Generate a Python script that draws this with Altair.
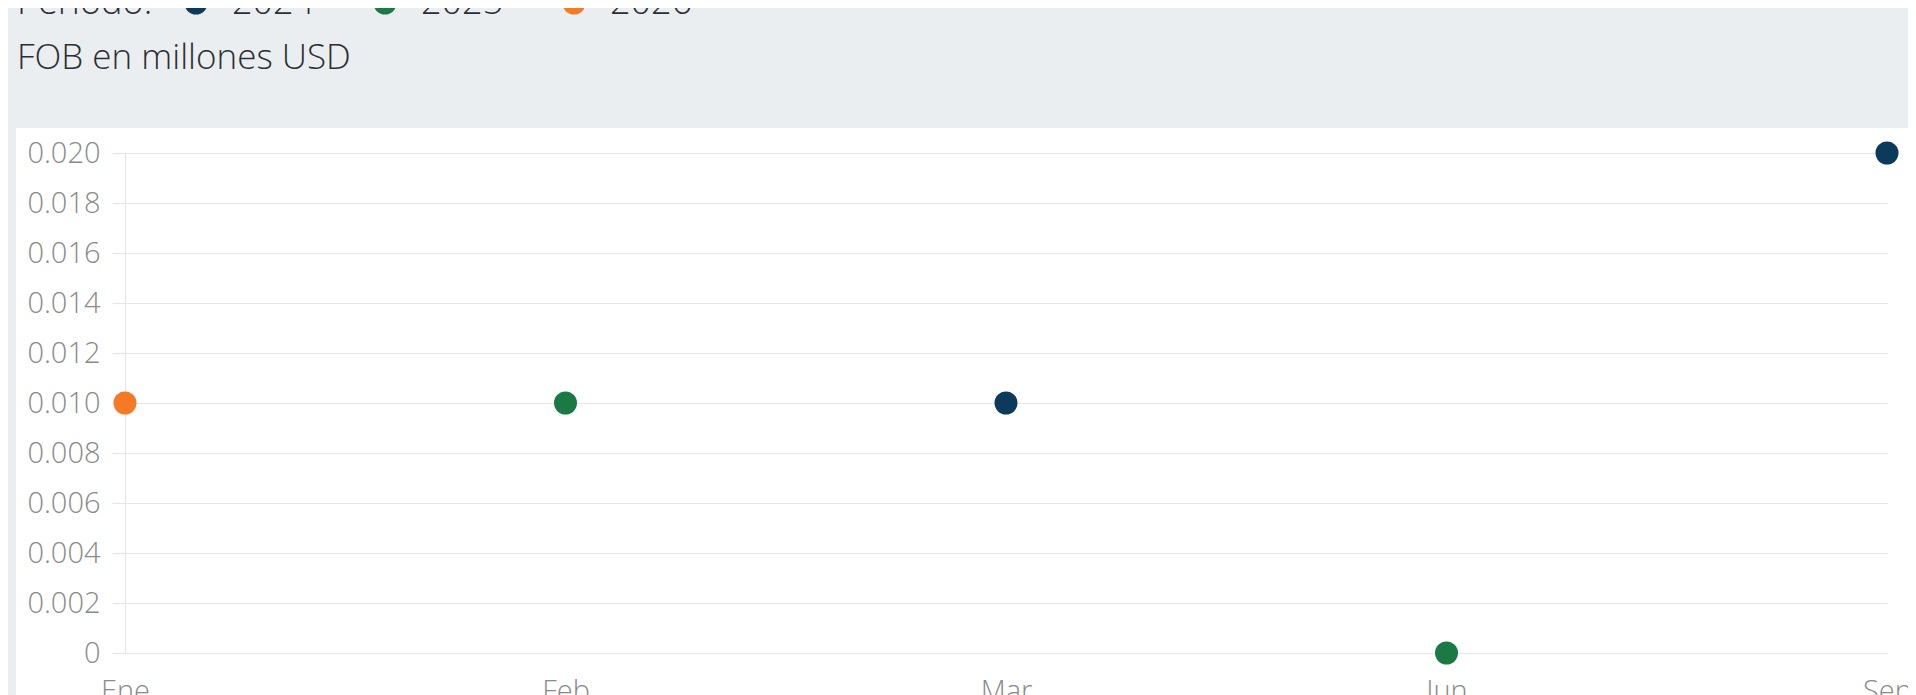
import altair as alt
import pandas as pd

# Data
MONTHS = ["Ene", "Feb", "Mar", "Jun", "Sep"]
PERIODO = ["2026", "2025", "2024", "2025", "2024"]
FOB = [0.010, 0.010, 0.010, 0.0, 0.020]
SERIES = ["2024", "2025", "2026"]
COLORS = ["#0b3a5b", "#1b7a44", "#f47a26"]
Y_TICKS = [0, 0.002, 0.004, 0.006, 0.008, 0.010, 0.012, 0.014, 0.016, 0.018, 0.020]

df = pd.DataFrame({"Mes": MONTHS, "Periodo": PERIODO, "FOB": FOB})

W, H = 1762, 500
PAD = {"left": 117, "top": 145, "right": 21, "bottom": 62}
GRAY = "#ebeef1"
FONT = "Open Sans"

one = alt.Data(values=[{}])

top_band = alt.Chart(one).mark_rect(color=GRAY).encode(
    x=alt.value(-PAD["left"]), x2=alt.value(W + PAD["right"]),
    y=alt.value(-PAD["top"]), y2=alt.value(-25),
)
left_band = alt.Chart(one).mark_rect(color=GRAY).encode(
    x=alt.value(-PAD["left"]), x2=alt.value(-109),
    y=alt.value(-25), y2=alt.value(H + PAD["bottom"]),
)
subtitle = alt.Chart(one).mark_text(
    text="FOB en millones USD", align="left", baseline="alphabetic",
    font=FONT, fontSize=35, fontWeight=300, color="#2b2f33",
).encode(x=alt.value(-108), y=alt.value(-84))

points = alt.Chart(df).mark_circle(size=529, opacity=1).encode(
    x=alt.X("Mes:N", sort=MONTHS, scale=alt.Scale(type="point", padding=0),
            axis=alt.Axis(title=None, labelAngle=0, domain=False, ticks=False,
                          grid=False, labelPadding=24, labelFontSize=29,
                          labelColor="#8a8a8a", labelFont=FONT, labelFontWeight=300)),
    y=alt.Y("FOB:Q", scale=alt.Scale(domain=[0, 0.02], nice=False),
            axis=alt.Axis(title=None, values=Y_TICKS,
                          labelExpr="datum.value == 0 ? '0' : format(datum.value, '.3f')",
                          grid=True, gridColor="#e6e6e6", gridWidth=1.2,
                          domain=True, domainColor="#e6e6e6", domainWidth=1.2,
                          ticks=True, tickSize=13, tickColor="#e6e6e6", tickWidth=1.2,
                          labelPadding=12, labelFontSize=29, labelColor="#8a8a8a",
                          labelFont=FONT, labelFontWeight=300)),
    color=alt.Color("Periodo:N", scale=alt.Scale(domain=SERIES, range=COLORS),
                    legend=alt.Legend(title="Período:", orient="none", legendX=-108,
                                      legendY=-168, direction="horizontal",
                                      titleOrient="left", titlePadding=25,
                                      titleFontSize=36, titleFontWeight=300,
                                      titleFont=FONT, titleColor="#2b2f33",
                                      labelFontSize=36, labelFont=FONT,
                                      labelFontWeight=300, labelColor="#2b2f33",
                                      labelOffset=18, columnPadding=52,
                                      symbolType="circle", symbolSize=529,
                                      symbolStrokeWidth=0, symbolOpacity=1,
                                      padding=0)),
)

chart = alt.layer(top_band, left_band, subtitle, points).properties(
    width=W, height=H, padding=PAD, autosize="none", background="white",
).configure_view(stroke=None)

chart.save("out.html", embed_options={"renderer": "svg", "actions": False})
